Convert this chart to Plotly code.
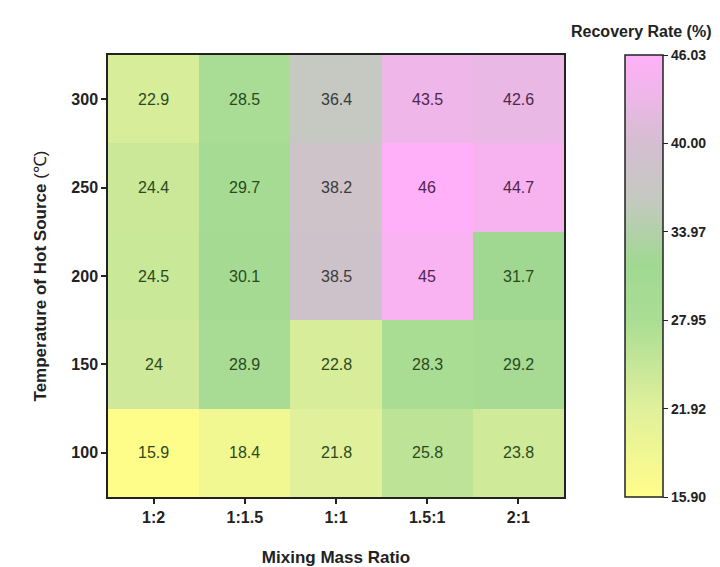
import plotly.graph_objects as go

# Mixing mass ratio (columns) and hot-source temperature (rows, bottom to top)
ratios = ["1:2", "1:1.5", "1:1", "1.5:1", "2:1"]
temps = [100, 150, 200, 250, 300]

# Recovery rate (%) per temperature row, ordered as in `ratios`
rate_100 = [15.9, 18.4, 21.8, 25.8, 23.8]
rate_150 = [24.0, 28.9, 22.8, 28.3, 29.2]
rate_200 = [24.5, 30.1, 38.5, 45.0, 31.7]
rate_250 = [24.4, 29.7, 38.2, 46.0, 44.7]
rate_300 = [22.9, 28.5, 36.4, 43.5, 42.6]
rates = [rate_100, rate_150, rate_200, rate_250, rate_300]

zmin, zmax = 15.90, 46.03
cbar_ticks = [15.90, 21.92, 27.95, 33.97, 40.00, 46.03]

colorscale = [
    [0.00, "#fffd8a"],
    [0.20, "#e0f09b"],
    [0.40, "#aadd94"],
    [0.53, "#a0d892"],
    [0.68, "#c6c8c2"],
    [0.80, "#d4bed0"],
    [0.90, "#ecb7e7"],
    [1.00, "#ffb0f8"],
]

FONT = "Liberation Sans, Arial, sans-serif"


def label_color(v):
    if v < 34:
        return "#2a4a1e"
    if v < 41:
        return "#3a3a3a"
    return "#52264c"


fig = go.Figure(
    go.Heatmap(
        x=ratios,
        y=temps,
        z=rates,
        zmin=zmin,
        zmax=zmax,
        colorscale=colorscale,
        xgap=0,
        ygap=0,
        colorbar=dict(
            x=1.134,
            xanchor="left",
            y=0.5,
            yanchor="middle",
            len=1.0,
            lenmode="fraction",
            thickness=38,
            outlinewidth=1.5,
            outlinecolor="#222",
            tickmode="array",
            tickvals=cbar_ticks,
            ticktext=[f"{t:.2f}" for t in cbar_ticks],
            ticks="outside",
            ticklen=5,
            tickwidth=1.2,
            tickcolor="#222",
            tickfont=dict(family=FONT, size=14, color="#222", weight="bold"),
            xpad=0,
            ypad=0,
        ),
        hoverinfo="skip",
    )
)

# value labels inside each cell
for row_t, row in zip(temps, rates):
    for ratio, v in zip(ratios, row):
        fig.add_annotation(
            x=ratio,
            y=row_t,
            text=f"{v:g}",
            showarrow=False,
            font=dict(family=FONT, size=16, color=label_color(v)),
        )

# colorbar heading
fig.add_annotation(
    xref="paper",
    yref="paper",
    x=1.33,
    y=1.03,
    xanchor="right",
    yanchor="bottom",
    text="<b>Recovery Rate (%)</b>",
    showarrow=False,
    font=dict(family=FONT, size=16, color="#222"),
)

axis_common = dict(
    showline=True,
    linecolor="#222",
    linewidth=1.5,
    mirror=True,
    ticks="outside",
    ticklen=5,
    tickwidth=1.5,
    tickcolor="#222",
    showgrid=False,
    zeroline=False,
    automargin=False,
    tickfont=dict(family=FONT, size=16, color="#222", weight="bold"),
)

fig.update_xaxes(
    title=dict(
        text="<b>Mixing Mass Ratio</b>",
        font=dict(family=FONT, size=17, color="#222"),
        standoff=26,
    ),
    **axis_common,
)
fig.update_yaxes(
    title=dict(
        text="<b>Temperature of Hot Source</b> (℃)",
        font=dict(family=FONT, size=17, color="#222"),
        standoff=20,
    ),
    tickvals=temps,
    range=[75, 325],
    **axis_common,
)

fig.update_layout(
    width=720,
    height=567,
    margin=dict(l=108, r=156, t=55, b=70),
    paper_bgcolor="white",
    plot_bgcolor="white",
    font=dict(family=FONT),
)

fig.write_html("out.html")
